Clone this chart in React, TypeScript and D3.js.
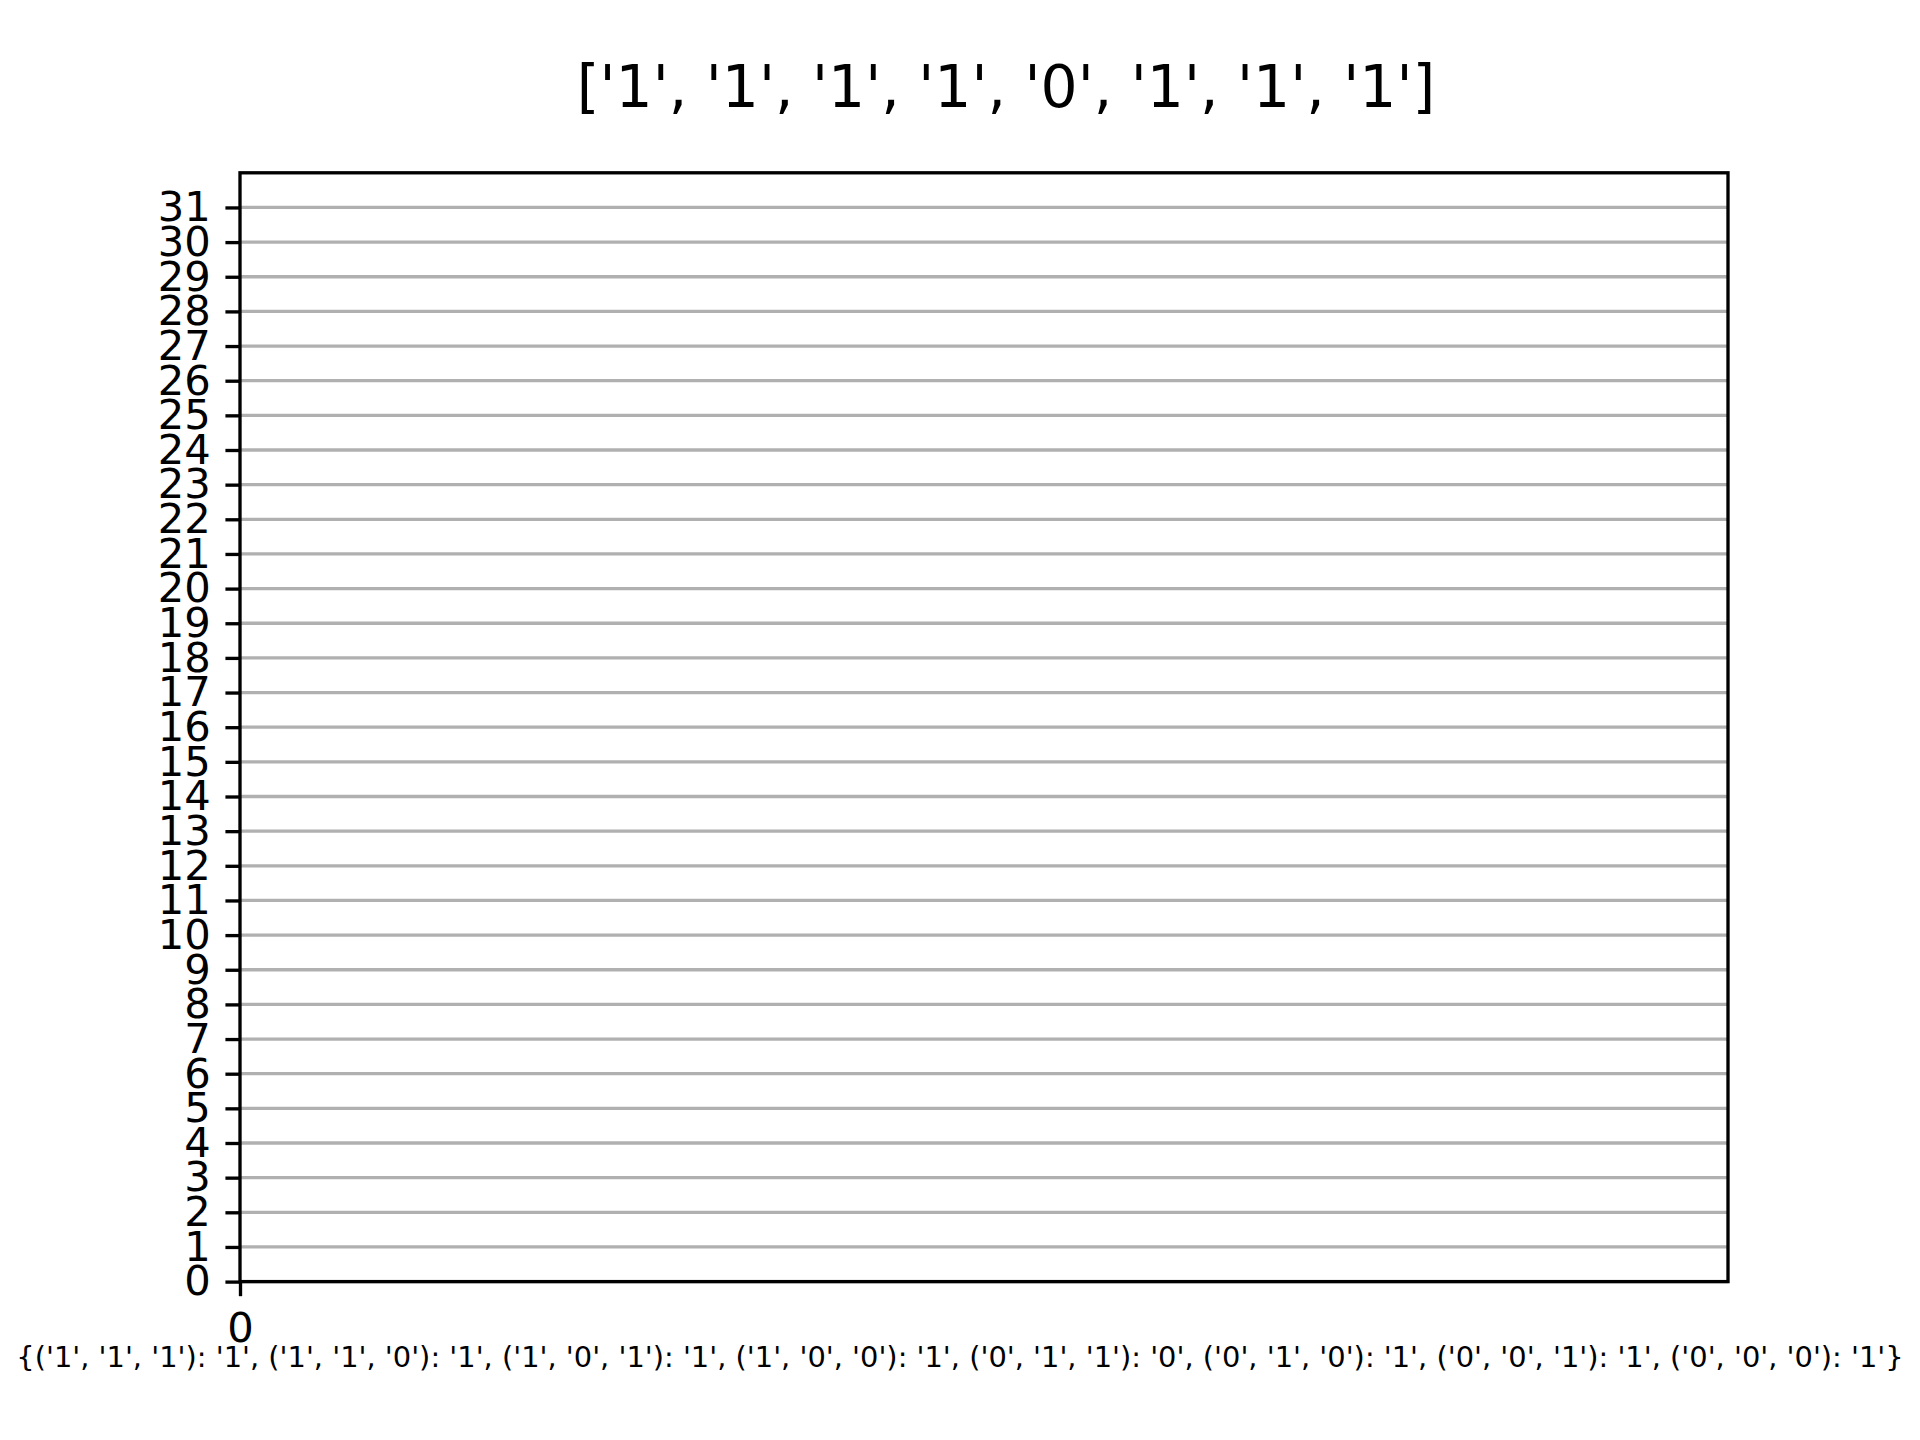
import React, { useEffect, useRef } from "react";
import * as d3 from "d3";

// truth table of the rule: inputs -> output
const patterns = ["111", "110", "101", "100", "011", "010", "001", "000"];
const outputs = ["1", "1", "1", "1", "0", "1", "1", "1"];

// y tick labels (cell rows) and x tick labels
const yTicks = [
  0, 1, 2, 3, 4, 5, 6, 7, 8, 9, 10, 11, 12, 13, 14, 15, 16, 17, 18, 19, 20,
  21, 22, 23, 24, 25, 26, 27, 28, 29, 30, 31,
];
const xTicks = [0];

const W = 1920;
const H = 1440;
const box = { left: 240, right: 1728, top: 172.8, bottom: 1281.6 };
const pt = 300 / 72;

const App = () => {
  const svgRef = useRef<SVGSVGElement>(null);

  useEffect(() => {
    const svg = d3.select(svgRef.current);
    svg.selectAll("*").remove();

    const x = d3.scaleLinear().domain([0, 1]).range([box.left, box.right]);
    const y = d3.scaleLinear().domain([0, 32]).range([box.bottom, box.top]);

    // grid
    svg
      .append("g")
      .selectAll("line")
      .data(yTicks)
      .enter()
      .append("line")
      .attr("x1", box.left)
      .attr("x2", box.right)
      .attr("y1", d => y(d))
      .attr("y2", d => y(d))
      .attr("stroke", "#b0b0b0")
      .attr("stroke-width", 0.8 * pt);

    // axes
    const yAxis = svg
      .append("g")
      .attr("transform", `translate(${box.left},0)`)
      .call(
        d3
          .axisLeft(y)
          .tickValues(yTicks)
          .tickSize(3.5 * pt)
          .tickPadding(3.5 * pt)
          .tickFormat(d => String(d))
      );
    const xAxis = svg
      .append("g")
      .attr("transform", `translate(0,${box.bottom})`)
      .call(
        d3
          .axisBottom(x)
          .tickValues(xTicks)
          .tickSize(3.5 * pt)
          .tickPadding(3.5 * pt + 2)
          .tickFormat(d => String(d))
      );
    [yAxis, xAxis].forEach(a => {
      a.select(".domain").remove();
      a.selectAll(".tick line")
        .attr("stroke", "black")
        .attr("stroke-width", 0.8 * pt);
      a.selectAll("text")
        .attr("fill", "black")
        .style("font-family", "DejaVu Sans")
        .style("font-size", `${10 * pt}px`);
    });

    // spines
    svg
      .append("rect")
      .attr("x", box.left)
      .attr("y", box.top)
      .attr("width", box.right - box.left)
      .attr("height", box.bottom - box.top)
      .attr("fill", "none")
      .attr("stroke", "black")
      .attr("stroke-width", 0.8 * pt);

    // title
    const title = "[" + outputs.map(o => `'${o}'`).join(", ") + "]";
    svg
      .append("text")
      .attr("x", 1006)
      .attr("y", 107)
      .attr("text-anchor", "middle")
      .style("font-family", "DejaVu Sans")
      .style("font-size", `${14 * pt}px`)
      .text(title);

    // x label: the rule as a dict
    const label =
      "{" +
      patterns
        .map(
          (p, i) =>
            `(${p
              .split("")
              .map(c => `'${c}'`)
              .join(", ")}): '${outputs[i]}'`
        )
        .join(", ") +
      "}";
    svg
      .append("text")
      .attr("x", W / 2)
      .attr("y", 1367)
      .attr("text-anchor", "middle")
      .style("font-family", "DejaVu Sans")
      .style("font-size", "28.9px")
      .text(label);
  }, []);

  return (
    <svg
      ref={svgRef}
      width={W}
      height={H}
      style={{ position: "absolute", left: 0, top: 0, background: "white" }}
    />
  );
};

export default App;
